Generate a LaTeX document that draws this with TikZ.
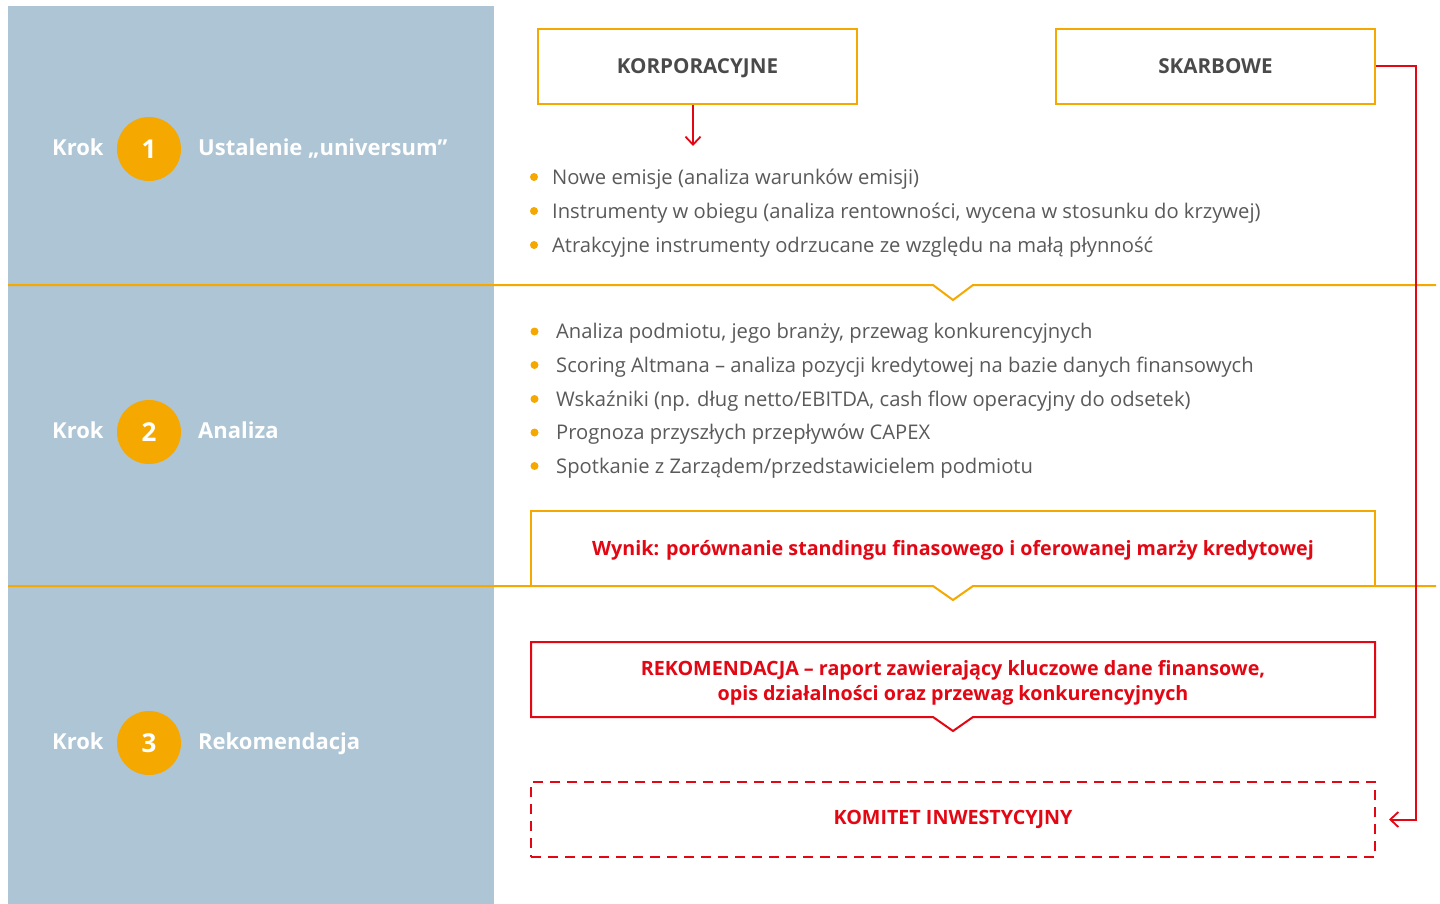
\documentclass[tikz,border=0pt]{standalone}
\usepackage{fontspec}
\setmainfont{Open Sans}
\usetikzlibrary{arrows.meta}
\definecolor{panel}{HTML}{ADC5D4}
\definecolor{orng}{HTML}{F5A800}
\definecolor{rd}{HTML}{E30613}
\definecolor{txt}{HTML}{5A5A5A}
\definecolor{hdr}{HTML}{4A4A4A}
\tikzset{
  bul/.style={circle,fill=orng,inner sep=0pt,minimum size=8pt},
  btext/.style={anchor=base west,inner sep=0pt,text=txt,font=\fontsize{20.2}{22}\selectfont},
  hdrbox/.style={draw=orng,line width=2pt,minimum width=319pt,minimum height=75pt,text=hdr,font=\fontsize{20.6}{22}\selectfont\bfseries,text height=15pt,text depth=0pt},
  steplbl/.style={anchor=base west,inner sep=0pt,text=white,font=\fontsize{22}{26}\selectfont\bfseries},
  stepnum/.style={circle,fill=orng,minimum size=64pt,inner sep=0pt,text=white,font=\fontsize{26}{30}\selectfont\bfseries},
  redtext/.style={text=rd,font=\fontsize{19.7}{25}\selectfont\bfseries,align=center},
  sepline/.style={orng,line width=2pt},
  redarrow/.style={rd,line width=2pt,-{Straight Barb[length=8pt,width=15pt,line width=1.8pt]}},
}
\begin{document}
\begin{tikzpicture}[x=1pt,y=-1pt]
\useasboundingbox (0,0) rectangle (1440,904);
\fill[white] (0,0) rectangle (1440,904);
% left panel
\fill[panel] (8,6) rectangle (494,904);
% separators
\draw[sepline] (8,285) -- (933,285) -- (953,300) -- (973,285) -- (1436,285);
\draw[sepline] (8,586) -- (933,586) -- (953,600) -- (973,586) -- (1436,586);
% steps
\node[steplbl] (k1) at (52,156) {Krok};
\node[stepnum] (n1) at (149,149) {1};
\node[steplbl] (s1) at (198,156) {Ustalenie „universum”};
\node[steplbl] (k2) at (52,438.5) {Krok};
\node[stepnum] (n2) at (149,432) {2};
\node[steplbl] (s2) at (198,438.5) {Analiza};
\node[steplbl] (k3) at (52,749.5) {Krok};
\node[stepnum] (n3) at (149,743) {3};
\node[steplbl] (s3) at (198,749.5) {Rekomendacja};
% header boxes
\node[hdrbox] (korp) at (697.5,66.5) {KORPORACYJNE};
\node[hdrbox] (skarb) at (1215.5,66.5) {SKARBOWE};
% bullets section 1
\node[bul] (b1) at (534,177) {};
\node[btext] (t1) at (552,185) {Nowe emisje (analiza warunków emisji)};
\node[bul] (b2) at (534,211) {};
\node[btext] (t2) at (552,218.5) {Instrumenty w obiegu (analiza rentowności, wycena w stosunku do krzywej)};
\node[bul] (b3) at (534,245) {};
\node[btext] (t3) at (552,252) {Atrakcyjne instrumenty odrzucane ze względu na małą płynność};
% bullets section 2
\node[bul] (c1) at (534.5,331.5) {};
\node[btext] (u1) at (556,338.5) {Analiza podmiotu, jego branży, przewag konkurencyjnych};
\node[bul] (c2) at (534.5,365) {};
\node[btext] (u2) at (556,372.5) {Scoring Altmana – analiza pozycji kredytowej na bazie danych finansowych};
\node[bul] (c3) at (534.5,399) {};
\node[btext] (u3) at (556,406) {Wskaźniki (np. dług netto/EBITDA, cash flow operacyjny do odsetek)};
\node[bul] (c4) at (534.5,432.5) {};
\node[btext] (u4) at (556,439.5) {Prognoza przyszłych przepływów CAPEX};
\node[bul] (c5) at (534.5,466) {};
\node[btext] (u5) at (556,473) {Spotkanie z Zarządem/przedstawicielem podmiotu};
% wynik box
\draw[orng,line width=2pt] (531,586) -- (531,511) -- (1375,511) -- (1375,586);
\node[redtext] (wynik) at (953,550) {Wynik: porównanie standingu finasowego i oferowanej marży kredytowej};
% rekomendacja box
\draw[rd,line width=2pt] (531,642) -- (1375,642) -- (1375,717) -- (973,717) -- (953,731) -- (933,717) -- (531,717) -- cycle;
\node[redtext] (rek) at (953,683) {REKOMENDACJA – raport zawierający kluczowe dane finansowe,\\opis działalności oraz przewag konkurencyjnych};
% komitet
\node[draw=rd,line width=2pt,dash pattern=on 10pt off 7pt,minimum width=844pt,minimum height=75pt,redtext] (kom) at (953,819.5) {KOMITET INWESTYCYJNY};
% connectors
\coordinate (kend) at (693,146);
\draw[redarrow] (korp.south -| kend) -- (kend);
\coordinate (rturn) at (1416,819.5);
\coordinate (kin) at (1389,819.5);
\draw[redarrow] (skarb.east) -| (rturn) -- (kin);
\end{tikzpicture}
\end{document}
